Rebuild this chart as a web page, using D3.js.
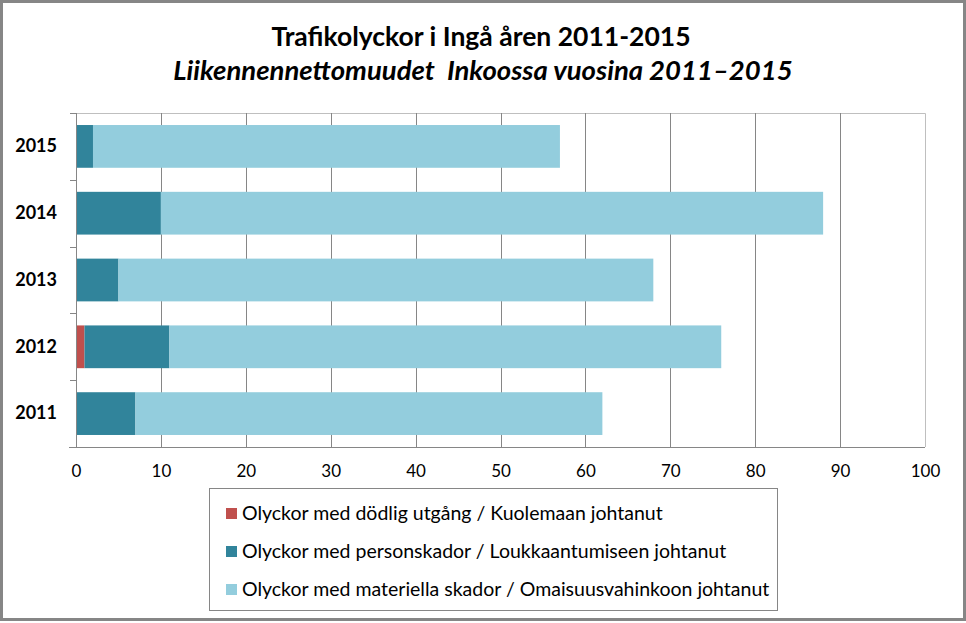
<!DOCTYPE html>
<html>
<head>
<meta charset="utf-8">
<script src="https://cdn.jsdelivr.net/npm/d3@7"></script>
<style>
  body { margin: 0; background: #fff; }
  text { font-family: Lato, "Open Sans", sans-serif; }
</style>
</head>
<body>
<svg id="chart" width="966" height="623"></svg>
<script>
// chart data
const years = ["2015", "2014", "2013", "2012", "2011"];
const fatal = [0, 0, 0, 1, 0];
const injury = [2, 10, 5, 10, 7];
const material = [55, 78, 63, 65, 55];
const xTicks = [0, 10, 20, 30, 40, 50, 60, 70, 80, 90, 100];
const seriesNames = [
    "Olyckor med dödlig utgång / Kuolemaan johtanut",
    "Olyckor med personskador / Loukkaantumiseen johtanut",
    "Olyckor med materiella skador / Omaisuusvahinkoon johtanut"
];
const seriesColors = ["#C0504D", "#31849B", "#93CDDD"];

let svg = d3.select('#chart');

// outer frame
svg.append('rect')
    .attr('x', 1.5).attr('y', 1.5)
    .attr('width', 963).attr('height', 618)
    .attr('fill', '#fff')
    .attr('stroke', '#868686')
    .attr('stroke-width', 3);

// titles
svg.append('text')
    .attr('x', 481).attr('y', 46)
    .attr('text-anchor', 'middle')
    .style('font-size', '26.5px').style('font-weight', 'bold')
    .text('Trafikolyckor i Ingå åren 2011-2015');
svg.append('text')
    .attr('x', 483).attr('y', 80)
    .attr('text-anchor', 'middle')
    .style('white-space', 'pre')
    .style('font-size', '27.5px').style('font-weight', 'bold').style('font-style', 'italic')
    .text('Liikennennettomuudet  Inkoossa vuosina 2011–2015');

let x = d3.scaleLinear().domain([0, 100]).range([76, 925]);
let y = d3.scaleBand().domain(years).range([113, 447]).paddingInner(0.36).paddingOuter(0.18);

// plot area border (top / right)
svg.append('path')
    .attr('d', `M${x(0)},113.5H${x(100) + 0.5}V447`)
    .attr('fill', 'none').attr('stroke', '#BFBFBF');

// gridlines
svg.append('g').selectAll('line')
    .data(xTicks.slice(1, -1))
    .enter().append('line')
    .attr('x1', d => Math.round(x(d)) + 0.5).attr('x2', d => Math.round(x(d)) + 0.5)
    .attr('y1', 113).attr('y2', 447)
    .attr('stroke', '#868686');

// stacked bars
let stackData = years.map((yr, i) => ({ year: yr, fatal: fatal[i], injury: injury[i], material: material[i] }));
let stack = d3.stack().keys(['fatal', 'injury', 'material'])(stackData);

svg.append('g').selectAll('g')
    .data(stack)
    .enter().append('g')
    .attr('fill', (d, i) => seriesColors[i])
    .selectAll('rect')
    .data(d => d)
    .enter().append('rect')
    .attr('x', d => x(d[0]))
    .attr('width', d => x(d[1]) - x(d[0]))
    .attr('y', d => y(d.data.year))
    .attr('height', y.bandwidth());

// x axis
let xAxis = svg.append('g')
    .attr('transform', 'translate(0,447)')
    .call(d3.axisBottom(x).tickValues(xTicks).tickSize(0).tickPadding(18));
xAxis.select('.domain').attr('stroke', '#868686').attr('d', `M${x(0) - 7},0.5H${x(100)}`);
xAxis.selectAll('text').style('font-size', '17px').style('font-family', 'Lato, sans-serif').attr('fill', '#000');

// y axis
let yAxis = svg.append('g')
    .attr('transform', `translate(${x(0)},0)`)
    .call(d3.axisLeft(y).tickSize(0).tickPadding(19));
yAxis.select('.domain').attr('stroke', '#868686').attr('d', `M0.5,113V447`);
yAxis.selectAll('text').style('font-size', '18px').style('font-weight', 'bold').style('font-family', 'Lato, sans-serif').attr('fill', '#000');

// category boundary ticks
let bounds = years.map(yr => y(yr) - y.step() * y.paddingInner() / 2).concat([447]);
bounds[0] = 113;
yAxis.selectAll('.bound')
    .data(bounds)
    .enter().append('line')
    .attr('class', 'bound')
    .attr('x1', -6).attr('x2', 0)
    .attr('y1', d => Math.round(d) + 0.5).attr('y2', d => Math.round(d) + 0.5)
    .attr('stroke', '#868686');

// legend
let legend = svg.append('g');
legend.append('rect')
    .attr('x', 209.5).attr('y', 488.5)
    .attr('width', 568).attr('height', 122)
    .attr('fill', '#fff').attr('stroke', '#868686');
let items = legend.selectAll('.item')
    .data(seriesNames)
    .enter().append('g')
    .attr('class', 'item')
    .attr('transform', (d, i) => `translate(226,${513 + i * 38})`);
items.append('rect')
    .attr('x', 0).attr('y', -5)
    .attr('width', 11).attr('height', 11)
    .attr('fill', (d, i) => seriesColors[i]);
items.append('text')
    .attr('x', 16).attr('y', 6.5)
    .style('font-size', '19.5px')
    .text(d => d);
</script>
</body>
</html>
